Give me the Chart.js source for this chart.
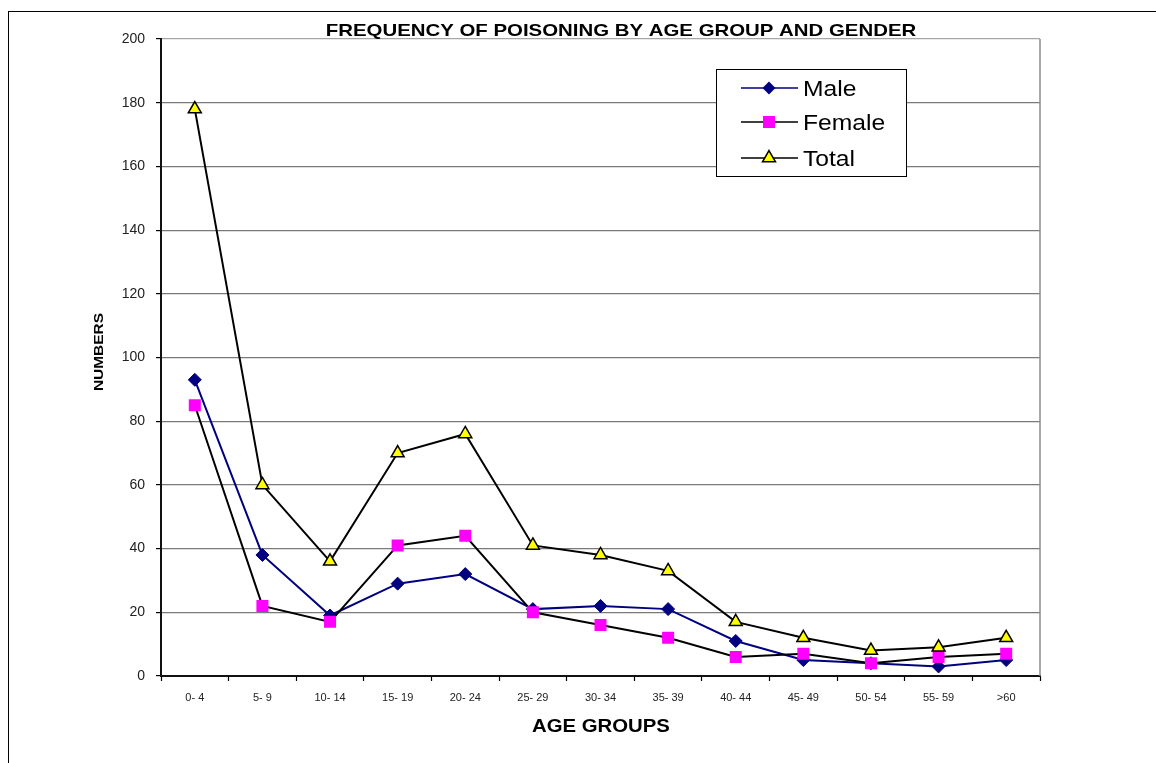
<!DOCTYPE html>
<html>
<head>
<meta charset="utf-8">
<script src="https://cdn.jsdelivr.net/npm/chart.js@4.4.0/dist/chart.umd.min.js"></script>
<style>
  html, body { margin: 0; padding: 0; background: #fff; }
  #frame { position: absolute; left: 8px; top: 11px; width: 1300px; height: 900px;
           border-left: 1.5px solid #000; border-top: 1.5px solid #000; }
  #wrap { position: absolute; left: 0; top: 0; width: 1156px; height: 763px; }
</style>
</head>
<body>
<div id="frame"></div>
<div id="wrap"><canvas id="myChart"></canvas></div>
<script>
const ageGroups = ['0- 4', '5- 9', '10- 14', '15- 19', '20- 24', '25- 29', '30- 34',
                   '35- 39', '40- 44', '45- 49', '50- 54', '55- 59', '>60'];
const male   = [93, 38, 19, 29, 32, 21, 22, 21, 11, 5, 4, 3, 5];
const female = [85, 22, 17, 41, 44, 20, 16, 12, 6, 7, 4, 6, 7];
const total  = [178, 60, 36, 70, 76, 41, 38, 33, 17, 12, 8, 9, 12];

const chartTitle = 'FREQUENCY OF POISONING BY AGE GROUP AND GENDER';
const xTitle = 'AGE GROUPS';
const yTitle = 'NUMBERS';

const ctx = document.getElementById('myChart');

// text in the original is rendered wide, so stretch it along its direction
function wideText(c, text, x, y, font, sx, rotate, align) {
	c.save();
	c.translate(x, y);
	if (rotate) c.rotate(-Math.PI / 2);
	c.scale(sx, 1);
	c.font = font;
	c.fillStyle = '#000';
	c.textAlign = align || 'center';
	c.textBaseline = 'alphabetic';
	c.fillText(text, 0, 0);
	c.restore();
}

function marker(c, style, x, y) {
	c.save();
	c.beginPath();
	if (style === 'rectRot') {
		c.moveTo(x - 6.5, y); c.lineTo(x, y - 6.5); c.lineTo(x + 6.5, y); c.lineTo(x, y + 6.5);
		c.closePath();
		c.fillStyle = '#000080'; c.fill();
	} else if (style === 'rect') {
		c.rect(x - 6, y - 6, 12, 12);
		c.fillStyle = '#ff00ff'; c.fill();
	} else {
		const r = 7.5;
		c.moveTo(x, y - r);
		c.lineTo(x + r * Math.sin(2 * Math.PI / 3), y - r * Math.cos(2 * Math.PI / 3));
		c.lineTo(x + r * Math.sin(4 * Math.PI / 3), y - r * Math.cos(4 * Math.PI / 3));
		c.closePath();
		c.fillStyle = '#ffff00'; c.fill();
		c.lineWidth = 1.5; c.strokeStyle = '#000'; c.stroke();
	}
	c.restore();
}

const decorations = {
	id: 'decorations',
	beforeDatasetsDraw(chart) {
		const c = chart.ctx, a = chart.chartArea;
		c.save();
		c.strokeStyle = '#8c8c8c';
		c.lineWidth = 1.5;
		c.beginPath();
		c.moveTo(a.right, a.top);
		c.lineTo(a.right, a.bottom);
		c.stroke();
		c.restore();
	},
	afterDraw(chart) {
		const c = chart.ctx;
		wideText(c, chartTitle, 621, 36, 'bold 17px "Liberation Sans", Arial, sans-serif', 1.2);
		wideText(c, xTitle, 601, 732, 'bold 18px "Liberation Sans", Arial, sans-serif', 1.13);
		wideText(c, yTitle, 103, 352, 'bold 13px "Liberation Sans", Arial, sans-serif', 1.19, true);

		// legend box
		c.save();
		c.fillStyle = '#fff';
		c.fillRect(716, 69, 190, 107);
		c.strokeStyle = '#000';
		c.lineWidth = 1;
		c.strokeRect(716.5, 69.5, 190, 107);
		c.restore();
		const rows = [
			{ label: 'Male', color: '#000080', style: 'rectRot', y: 88, base: 96 },
			{ label: 'Female', color: '#000', style: 'rect', y: 122, base: 130 },
			{ label: 'Total', color: '#000', style: 'triangle', y: 158, base: 166 }
		];
		rows.forEach(r => {
			c.save();
			c.strokeStyle = r.color;
			c.lineWidth = 1.5;
			c.beginPath();
			c.moveTo(741, r.y);
			c.lineTo(798, r.y);
			c.stroke();
			c.restore();
			marker(c, r.style, 769, r.y);
			wideText(c, r.label, 803, r.base, '22px "Liberation Sans", Arial, sans-serif', 1.12, false, 'left');
		});
	}
};

new Chart(ctx, {
	type: 'line',
	data: {
		labels: ageGroups,
		datasets: [{
			label: 'Male',
			data: male,
			borderColor: '#000080',
			backgroundColor: '#000080',
			borderWidth: 2,
			pointStyle: 'rectRot',
			pointRadius: 6.5,
			pointBorderWidth: 1,
			pointBackgroundColor: '#000080',
			pointBorderColor: '#000080',
			order: 3
		}, {
			label: 'Female',
			data: female,
			borderColor: '#000000',
			borderWidth: 2,
			pointStyle: 'rect',
			pointRadius: 8.5,
			pointBorderWidth: 0,
			pointBackgroundColor: '#ff00ff',
			pointBorderColor: '#ff00ff',
			order: 2
		}, {
			label: 'Total',
			data: total,
			borderColor: '#000000',
			borderWidth: 2,
			pointStyle: 'triangle',
			pointRadius: 7.5,
			pointBorderWidth: 1.5,
			pointBackgroundColor: '#ffff00',
			pointBorderColor: '#000000',
			order: 1
		}]
	},
	plugins: [decorations],
	options: {
		responsive: true,
		maintainAspectRatio: false,
		animation: false,
		events: [],
		layout: { padding: { left: 0, top: 39, right: 116, bottom: 0 } },
		plugins: {
			legend: { display: false },
			title: { display: false },
			tooltip: { enabled: false }
		},
		scales: {
			x: {
				offset: true,
				afterFit: (s) => { s.height = 87; },
				grid: {
					offset: true,
					drawOnChartArea: false,
					tickLength: 5,
					tickColor: '#000',
					tickWidth: 1.2
				},
				border: { color: '#111', width: 2 },
				ticks: {
					color: '#222',
					padding: 10,
					maxRotation: 0,
					autoSkip: false,
					font: { family: '"Liberation Sans", Arial, sans-serif', size: 11 }
				}
			},
			y: {
				min: 0,
				max: 200,
				afterFit: (s) => { s.width = 161; },
				grid: {
					color: (c) => c.tick && c.tick.value === 200 ? '#a6a6a6' : (c.tick && c.tick.value === 0 ? '#000' : '#7a7a7a'),
					lineWidth: 1.2,
					tickLength: 5,
					tickColor: '#000'
				},
				border: { color: '#111', width: 2 },
				ticks: {
					stepSize: 20,
					color: '#222',
					padding: 11,
					font: { family: '"Liberation Sans", Arial, sans-serif', size: 14 }
				}
			}
		}
	}
});
</script>
</body>
</html>
